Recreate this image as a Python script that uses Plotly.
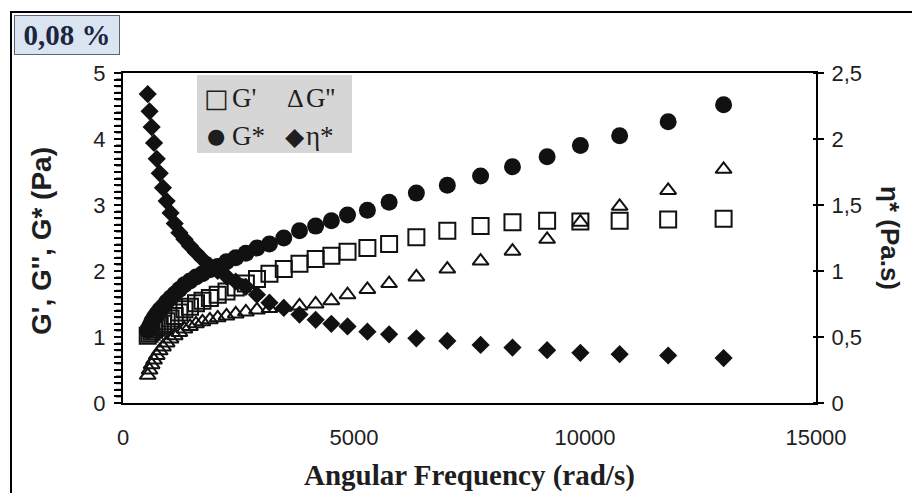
import plotly.graph_objects as go

# ---- data ----
omega = [535, 575, 620, 672, 730, 795, 865, 945, 1030, 1120,
         1220, 1330, 1450, 1580, 1720, 1880, 2050, 2240, 2440, 2660,
         2900, 3170, 3480, 3820, 4170, 4510, 4860, 5290, 5760, 6350,
         7020, 7740, 8430, 9180, 9900, 10750, 11800, 13000]

g_storage = [1.02, 1.05, 1.08, 1.11, 1.14, 1.17, 1.20, 1.24, 1.28, 1.32,
             1.37, 1.42, 1.46, 1.51, 1.55, 1.59, 1.64, 1.69, 1.75, 1.81,
             1.88, 1.96, 2.03, 2.11, 2.18, 2.23, 2.29, 2.35, 2.41, 2.51,
             2.61, 2.68, 2.74, 2.76, 2.75, 2.76, 2.78, 2.79]

g_loss = [0.42, 0.50, 0.58, 0.65, 0.72, 0.79, 0.85, 0.91, 0.97, 1.02,
          1.07, 1.12, 1.16, 1.20, 1.23, 1.26, 1.29, 1.32, 1.35, 1.38,
          1.41, 1.43, 1.45, 1.47, 1.50, 1.55, 1.64, 1.72, 1.81, 1.91,
          2.03, 2.15, 2.30, 2.48, 2.74, 2.98, 3.22, 3.54]

g_complex = [1.10, 1.16, 1.23, 1.29, 1.35, 1.41, 1.46, 1.53, 1.59, 1.65,
             1.72, 1.79, 1.85, 1.91, 1.96, 2.02, 2.07, 2.14, 2.20, 2.27,
             2.35, 2.41, 2.50, 2.61, 2.68, 2.76, 2.85, 2.92, 3.04, 3.18,
             3.30, 3.44, 3.58, 3.73, 3.90, 4.05, 4.26, 4.52]

eta_complex = [2.34, 2.21, 2.09, 1.97, 1.85, 1.74, 1.63, 1.53, 1.44, 1.36,
               1.29, 1.24, 1.19, 1.14, 1.09, 1.04, 1.00, 0.96, 0.92, 0.88,
               0.82, 0.76, 0.72, 0.67, 0.63, 0.60, 0.58, 0.54, 0.52, 0.49,
               0.47, 0.44, 0.42, 0.40, 0.38, 0.37, 0.36, 0.34]

x_tickvals = [0, 5000, 10000, 15000]
x_ticktext = ["0", "5000", "10000", "15000"]
y_ticktext = ["0", "1", "2", "3", "4", "5"]
y_minor_step = 0.1
y2_tickvals = [0, 0.5, 1, 1.5, 2, 2.5]
y2_ticktext = ["0", "0,5", "1", "1,5", "2", "2,5"]

x_range = [0, 15000]
y_range = [0, 5]
y2_range = [0, 2.5]

series_names = ["G'", "G''", "G*", "η*"]
legend_rows = [
    ("□", "G'", "Δ", "G''"),
    ("●", "G*", "◆", "η*"),
]
sample_label = "0,08 %"
x_title = "Angular Frequency (rad/s)"
y_title = "G', G'', G* (Pa)"
y2_title = "η* (Pa.s)"

# left axis: a tick every 0.1, labelled only at the integers
n_sub = round(1 / y_minor_step)
y_tickvals = [round(k * y_minor_step, 2) for k in range(n_sub * (len(y_ticktext) - 1) + 1)]
y_ticklabels = [y_ticktext[k // n_sub] if k % n_sub == 0 else "" for k in range(len(y_tickvals))]

# ---- layout geometry (pixels) ----
W, H = 912, 493
L, R, T, B = 123, 96, 73, 90
PW, PH = W - L - R, H - T - B


def px(xp):
    return (xp - L) / PW


def py(yp):
    return (H - B - yp) / PH


INK = "#111111"
TXT = "#1e1e1e"
SANS = "Liberation Sans, Arial, sans-serif"
SERIF = "Liberation Serif, Times New Roman, serif"

fig = go.Figure()
fig.add_trace(go.Scatter(
    x=omega, y=g_complex, name=series_names[2], mode="markers",
    marker=dict(symbol="circle", size=17, color=INK, line=dict(width=0)),
))
fig.add_trace(go.Scatter(
    x=omega, y=g_storage, name=series_names[0], mode="markers",
    marker=dict(symbol="square-open", size=16, color=INK, line=dict(width=2, color=INK)),
))
fig.add_trace(go.Scatter(
    x=omega, y=g_loss, name=series_names[1], mode="markers",
    marker=dict(symbol="triangle-up-open", size=14, color=INK, line=dict(width=2, color=INK)),
))
fig.add_trace(go.Scatter(
    x=omega, y=eta_complex, name=series_names[3], mode="markers", yaxis="y2",
    marker=dict(symbol="diamond", size=14, color=INK, line=dict(width=0)),
))

fig.update_layout(
    width=W, height=H,
    margin=dict(l=L, r=R, t=T, b=B, pad=0),
    paper_bgcolor="white", plot_bgcolor="white",
    showlegend=False,
    xaxis=dict(
        range=x_range, tickvals=x_tickvals, ticktext=x_ticktext,
        showline=True, linecolor="black", linewidth=2, mirror=True,
        ticks="", showgrid=False, zeroline=False, automargin=False,
        tickfont=dict(family=SANS, size=22, color=TXT),
        ticklabelstandoff=14,
    ),
    yaxis=dict(
        range=y_range, tickvals=y_tickvals, ticktext=y_ticklabels,
        showline=True, linecolor="black", linewidth=2, mirror=True,
        ticks="outside", ticklen=7, tickwidth=2, tickcolor="black",
        showgrid=False, zeroline=False, automargin=False,
        tickfont=dict(family=SANS, size=22, color=TXT),
        ticklabelstandoff=4,
    ),
    yaxis2=dict(
        range=y2_range, tickvals=y2_tickvals, ticktext=y2_ticktext,
        overlaying="y", side="right",
        showline=True, linecolor="black", linewidth=2,
        ticks="outside", ticklen=6, tickwidth=2, tickcolor="black",
        showgrid=False, zeroline=False, automargin=False,
        tickfont=dict(family=SANS, size=22, color=TXT),
        ticklabelstandoff=3,
    ),
)

# explicit tick marks in paper space (shapes tied to data axes get clipped to the plot area)
for v in y_tickvals:
    yp = (v - y_range[0]) / (y_range[1] - y_range[0])
    fig.add_shape(type="line", xref="paper", yref="paper", x0=px(L - 7), x1=px(L), y0=yp, y1=yp,
                  line=dict(color="black", width=2), layer="above")
for v in y2_tickvals:
    yp = (v - y2_range[0]) / (y2_range[1] - y2_range[0])
    fig.add_shape(type="line", xref="paper", yref="paper", x0=px(W - R - 3), x1=px(W - R + 6), y0=yp, y1=yp,
                  line=dict(color="black", width=2), layer="above")

# outer frame of the figure
fig.add_shape(type="rect", xref="paper", yref="paper",
              x0=px(11), x1=px(916), y0=py(497), y1=py(12),
              line=dict(color="black", width=2), fillcolor="rgba(0,0,0,0)", layer="above")

# legend box (text legend as in the reference)
fig.add_shape(type="rect", xref="paper", yref="paper",
              x0=px(197), x1=px(352), y0=py(153), y1=py(75),
              line=dict(width=0), fillcolor="#d6d6d6", layer="below")
sym_x = [216, 295]
lab_x = [230, 304]
sym_font = {"□": ("DejaVu Sans", 26), "Δ": (SERIF, 26),
            "●": ("DejaVu Sans", 21), "◆": ("DejaVu Sans", 25)}
for i, (s1, t1, s2, t2) in enumerate(legend_rows):
    yy = py(98 + 38 * i)
    for sx, lx, s, t in ((sym_x[0], lab_x[0], s1, t1), (sym_x[1], lab_x[1], s2, t2)):
        fam, sz = sym_font[s]
        fig.add_annotation(xref="paper", yref="paper", x=px(sx), y=yy,
                           xanchor="center", yanchor="middle", showarrow=False,
                           text=s, font=dict(family=fam, size=sz, color=TXT))
        fig.add_annotation(xref="paper", yref="paper", x=px(lx), y=yy,
                           xanchor="left", yanchor="middle", showarrow=False,
                           text=t, font=dict(family=SERIF, size=27, color=TXT))

# sample label box
fig.add_annotation(xref="paper", yref="paper", x=px(14), y=py(15),
                   xanchor="left", yanchor="top", showarrow=False,
                   text="<b>" + sample_label + "</b>", width=102, height=36,
                   bgcolor="#dbe5f1", bordercolor="#5a6478", borderwidth=1, borderpad=1,
                   font=dict(family=SERIF, size=29, color="#1c2640"))

# axis titles
fig.add_annotation(xref="paper", yref="paper", x=0.5, y=py(475),
                   xanchor="center", yanchor="middle", showarrow=False,
                   text="<b>" + x_title + "</b>",
                   font=dict(family=SERIF, size=29, color=TXT))
fig.add_annotation(xref="paper", yref="paper", x=px(42), y=py(241),
                   xanchor="center", yanchor="middle", showarrow=False, textangle=-90,
                   text="<b>" + y_title + "</b>",
                   font=dict(family=SANS, size=28, color=TXT))
fig.add_annotation(xref="paper", yref="paper", x=px(890), y=py(238),
                   xanchor="center", yanchor="middle", showarrow=False, textangle=90,
                   text="<b>" + y2_title + "</b>",
                   font=dict(family=SANS, size=26, color=TXT))

fig.write_html("out.html")
